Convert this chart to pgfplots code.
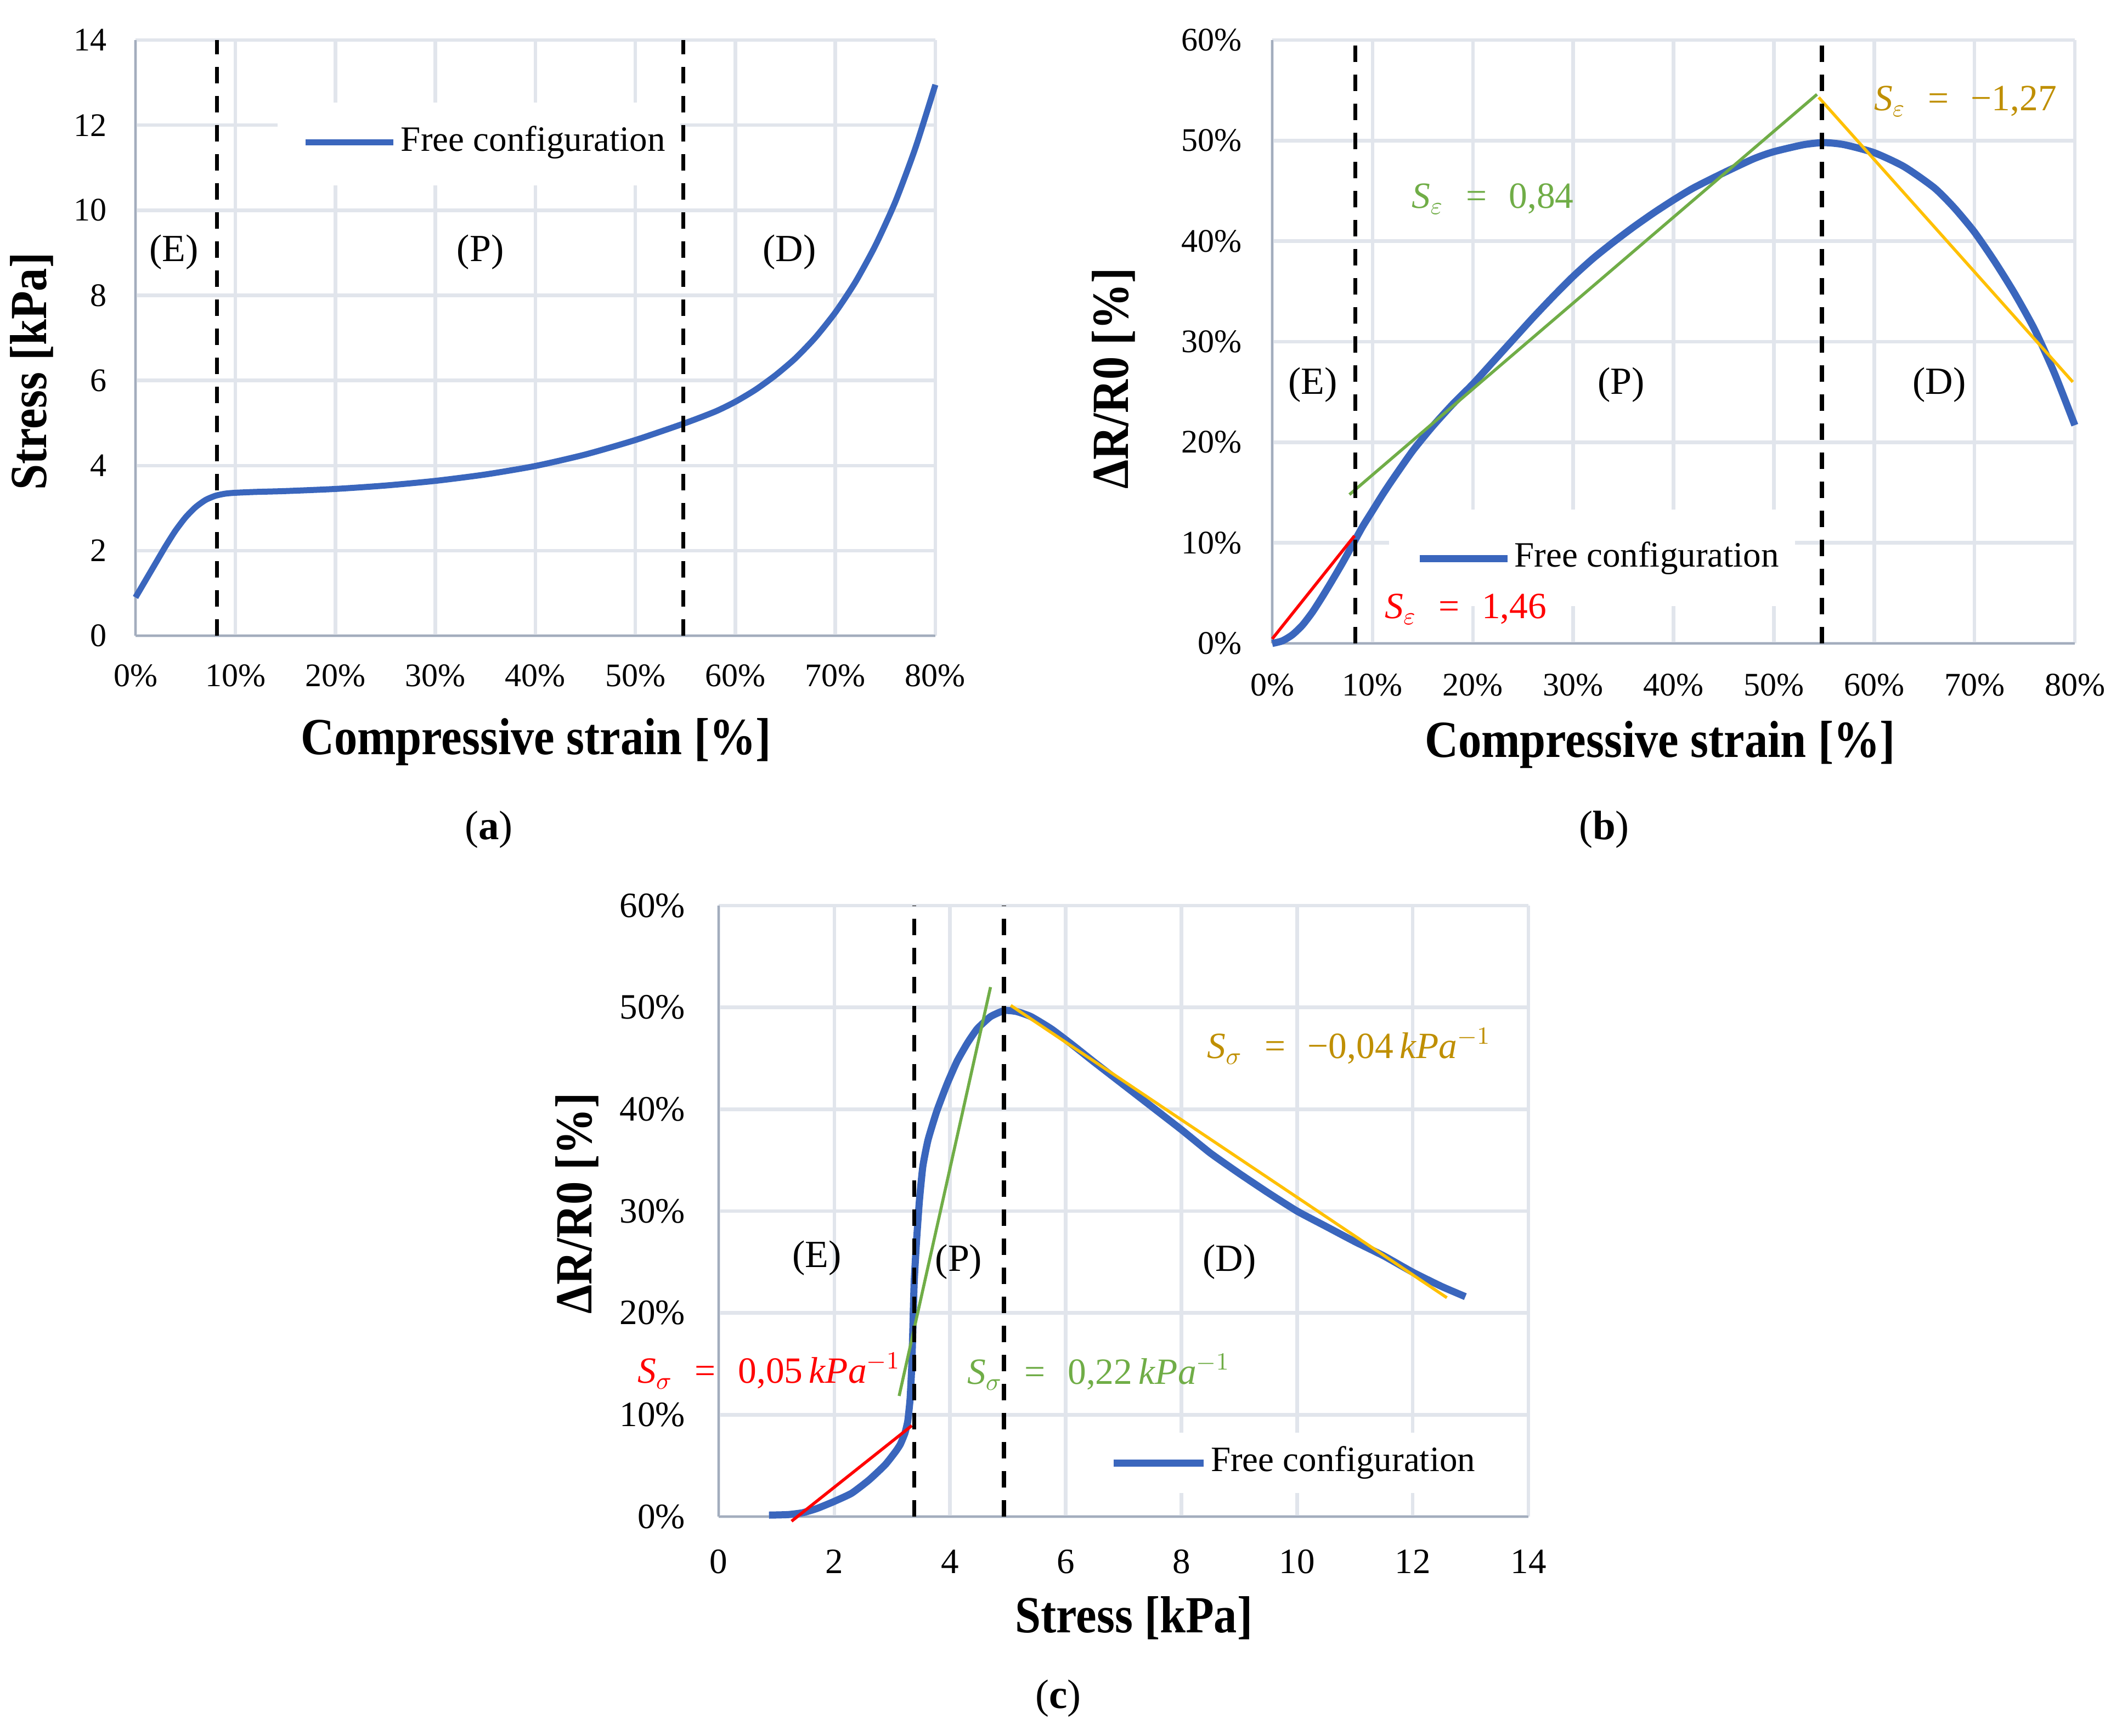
\documentclass[border=0pt]{standalone}
\usepackage{pgfplots}
\pgfplotsset{compat=1.18}
\usepackage{fontspec}
\setmainfont{Liberation Serif}
\newfontfamily\labfont{Liberation Serif}[FakeStretch=0.89]
\definecolor{cblue}{HTML}{3A66BD}
\definecolor{cgreen}{HTML}{70AD47}
\definecolor{cgold}{HTML}{BF8F00}
\definecolor{corange}{HTML}{FFC000}
\definecolor{cred}{HTML}{FF0000}
\definecolor{gridc}{HTML}{E1E5EC}
\definecolor{axc}{HTML}{A3ADBD}
\pgfplotsset{
  mystyle/.style={
    scale only axis,
    axis x line*=bottom, axis y line*=left,
    axis line style={draw=axc, line width=0.9pt, -},
    grid=major,
    major grid style={draw=gridc, line width=1.3pt},
    major tick length=0pt,
    clip=false,
    /pgf/number format/assume math mode=true,
  },
  dashv/.style={black, line width=1.5pt, dash pattern=on 6pt off 4.6pt},
}
\newcommand{\lblfont}{\labfont\bfseries\fontsize{19}{22}\selectfont}
\newcommand{\regfont}{\fontsize{14}{16}\selectfont}
\newcommand{\slfont}{\fontsize{13.5}{16}\selectfont}
\newcommand{\legfont}{\fontsize{13}{15}\selectfont}
\begin{document}
\begin{tikzpicture}
\fill[white] (0,0) rectangle (773.6pt,-632.8pt);

% ---------------- (a) ----------------
\begin{axis}[mystyle,
  at={(49.4pt,-231.8pt)}, anchor=south west,
  width=291.6pt, height=217.2pt,
  xmin=0, xmax=80, ymin=0, ymax=14,
  xtick={0,10,...,80}, ytick={0,2,...,14},
  xticklabel={\pgfmathprintnumber{\tick}\%},
  tick label style={font=\fontsize{12}{14}\selectfont},
  x tick label style={yshift=-7pt},
  y tick label style={xshift=-7pt},
]
\fill[white] (axis cs:14.2,10.58) rectangle (axis cs:54.5,12.53);
\addplot[cblue, line width=2.2pt, smooth, tension=0.4] coordinates {
(0,0.9) (1,1.3) (2,1.7) (3,2.1) (4,2.47) (5,2.78) (6,3.02) (7,3.19) (8,3.29)
(9,3.34) (10,3.36) (12,3.38) (15,3.40) (20,3.45) (25,3.53) (30,3.64) (35,3.79)
(40,3.99) (45,4.26) (50,4.6) (55,5.0) (58,5.27) (60,5.5) (62,5.78) (64,6.12)
(66,6.52) (68,7.01) (70,7.6) (72,8.31) (74,9.17) (76,10.2) (78,11.46) (80,12.95)};
\addplot[dashv] coordinates {(8.15,0) (8.15,14)};
\addplot[dashv] coordinates {(54.8,0) (54.8,14)};
\draw[cblue, line width=2.2pt] (axis cs:17.0,11.59) -- (axis cs:25.8,11.59);
\node[anchor=west, inner sep=0pt, font=\legfont] at (axis cs:26.5,11.59) {Free configuration};
\node[font=\regfont] at (axis cs:3.84,9.02) {(E)};
\node[font=\regfont] at (axis cs:34.5,9.02) {(P)};
\node[font=\regfont] at (axis cs:65.4,9.02) {(D)};
\end{axis}

% ---------------- (b) ----------------
\begin{axis}[mystyle,
  at={(463.8pt,-234.6pt)}, anchor=south west,
  width=292.6pt, height=220pt,
  xmin=0, xmax=80, ymin=0, ymax=60,
  xtick={0,10,...,80}, ytick={0,10,...,60},
  xticklabel={\pgfmathprintnumber{\tick}\%},
  yticklabel={\pgfmathprintnumber{\tick}\%},
  tick label style={font=\fontsize{12}{14}\selectfont},
  x tick label style={yshift=-7.6pt},
  y tick label style={xshift=-7.6pt},
]
\fill[white] (axis cs:11.65,3.7) rectangle (axis cs:52.1,13.3);
\addplot[cblue, line width=2.6pt, smooth, tension=0.4] coordinates {
(0,0) (1,0.25) (2,0.85) (3,1.8) (4,3.1) (5,4.65) (6,6.3) (7,8.0) (8,9.8)
(9,11.6) (10,13.2) (11,14.8) (12,16.3) (14,19.15) (16,21.6) (18,23.8) (20,25.8)
(22,28.0) (24,30.2) (26,32.4) (28,34.5) (30,36.5) (32,38.3) (34,39.9) (36,41.4)
(38,42.8) (40,44.1) (42,45.3) (45,46.8) (48,48.2) (50,48.9) (53,49.6) (55,49.8)
(57,49.6) (60,48.8) (63,47.4) (66,45.3) (68,43.3) (70,40.9) (72,38.0) (74,34.8)
(76,31.2) (78,26.8) (80,21.7)};
\addplot[cred, line width=1.1pt] coordinates {(0,0.45) (8.2,10.7)};
\addplot[cgreen, line width=1.1pt] coordinates {(7.7,14.8) (54.3,54.6)};
\addplot[corange, line width=1.1pt] coordinates {(54.47,54.3) (79.8,26.0)};
\addplot[dashv] coordinates {(8.28,0) (8.28,60)};
\addplot[dashv] coordinates {(54.8,0) (54.8,60)};
\draw[cblue, line width=2.6pt] (axis cs:14.7,8.45) -- (axis cs:23.46,8.45);
\node[anchor=west, inner sep=0pt, font=\legfont] at (axis cs:24.1,8.45) {Free configuration};
\node[font=\regfont] at (axis cs:4.05,25.7) {(E)};
\node[font=\regfont] at (axis cs:34.8,25.7) {(P)};
\node[font=\regfont] at (axis cs:66.5,25.7) {(D)};
\node[font=\slfont, text=cgreen] at (axis cs:22.0,44.2) {\textit{S}$_{\varepsilon}$\hspace{0.6em}=\hspace{0.6em}0,84};
\node[font=\slfont, text=cgold] at (axis cs:69.1,53.9) {\textit{S}$_{\varepsilon}$\hspace{0.6em}=\hspace{0.6em}−1,27};
\node[font=\slfont, text=cred] at (axis cs:19.3,3.4) {\textit{S}$_{\varepsilon}$\hspace{0.6em}=\hspace{0.6em}1,46};
\end{axis}

% ---------------- (c) ----------------
\begin{axis}[mystyle,
  at={(262pt,-553pt)}, anchor=south west,
  width=295.2pt, height=222.8pt,
  xmin=0, xmax=14, ymin=0, ymax=60,
  xtick={0,2,...,14}, ytick={0,10,...,60},
  yticklabel={\pgfmathprintnumber{\tick}\%},
  tick label style={font=\fontsize{13}{15}\selectfont},
  x tick label style={yshift=-8.6pt},
  y tick label style={xshift=-8.7pt},
]
\fill[white] (axis cs:6.3,2.3) rectangle (axis cs:13.6,8.24);
\addplot[cblue, line width=2.6pt, smooth, tension=0.3] coordinates {
(0.87,0.15) (1.2,0.2) (1.45,0.38) (1.7,0.8) (2.0,1.5) (2.3,2.3) (2.6,3.6)
(2.88,5.1) (3.06,6.4) (3.14,7.1) (3.22,8.2) (3.27,9.4) (3.31,11.6) (3.34,15)
(3.36,19) (3.38,23) (3.42,27) (3.47,31) (3.53,34.4) (3.62,37) (3.77,39.8)
(3.95,42.5) (4.12,44.7) (4.3,46.5) (4.47,47.9) (4.7,49.1) (4.94,49.7) (5.15,49.6)
(5.4,49.1) (5.75,47.9) (6.1,46.4) (6.5,44.6) (7.0,42.4) (7.5,40.2) (8.0,38.0)
(8.5,35.7) (9.0,33.7) (9.5,31.8) (10.0,30.0) (10.5,28.5) (11.0,27.0) (11.5,25.6)
(12.0,24.0) (12.5,22.6) (12.91,21.6)};
\addplot[cred, line width=1.1pt] coordinates {(1.26,-0.45) (3.34,8.94)};
\addplot[cgreen, line width=1.1pt] coordinates {(3.12,11.85) (4.70,52.0)};
\addplot[corange, line width=1.1pt] coordinates {(5.05,50.2) (12.59,21.5)};
\addplot[dashv] coordinates {(3.38,0) (3.38,60)};
\addplot[dashv] coordinates {(4.93,0) (4.93,60)};
\draw[cblue, line width=2.6pt] (axis cs:6.83,5.28) -- (axis cs:8.38,5.28);
\node[anchor=west, inner sep=0pt, font=\legfont] at (axis cs:8.50,5.28) {Free configuration};
\node[font=\regfont] at (axis cs:1.70,25.4) {(E)};
\node[font=\regfont] at (axis cs:4.15,25.0) {(P)};
\node[font=\regfont] at (axis cs:8.83,25.0) {(D)};
\node[font=\slfont, text=cred] at (axis cs:0.87,14.3) {\textit{S}$_{\sigma}$\hspace{0.6em}=\hspace{0.6em}0,05\,\textit{kPa}$^{-1}$};
\node[font=\slfont, text=cgreen] at (axis cs:6.57,14.2) {\textit{S}$_{\sigma}$\hspace{0.6em}=\hspace{0.6em}0,22\,\textit{kPa}$^{-1}$};
\node[font=\slfont, text=cgold] at (axis cs:10.9,46.2) {\textit{S}$_{\sigma}$\hspace{0.6em}=\hspace{0.6em}−0,04\,\textit{kPa}$^{-1}$};
\end{axis}

% axis labels and captions
\node[font=\lblfont] at (195.4pt,-270.6pt) {Compressive strain [\%]};
\node[font=\lblfont, rotate=90] at (11.6pt,-135.4pt) {Stress [kPa]};
\node[font=\lblfont] at (605.2pt,-271.6pt) {Compressive strain [\%]};
\node[font=\lblfont, rotate=90] at (406pt,-138pt) {ΔR/R0 [\%]};
\node[font=\lblfont] at (413.4pt,-590pt) {Stress [kPa]};
\node[font=\lblfont, rotate=90] at (210.4pt,-438.8pt) {ΔR/R0 [\%]};
\node[font=\fontsize{15}{18}\selectfont] at (178.2pt,-302.4pt) {(\textbf{a})};
\node[font=\fontsize{15}{18}\selectfont] at (584.8pt,-302.4pt) {(\textbf{b})};
\node[font=\fontsize{15}{18}\selectfont] at (385.8pt,-619.2pt) {(\textbf{c})};

\pgfresetboundingbox
\path[use as bounding box] (0,0) rectangle (773.6pt,-632.8pt);
\end{tikzpicture}
\end{document}
